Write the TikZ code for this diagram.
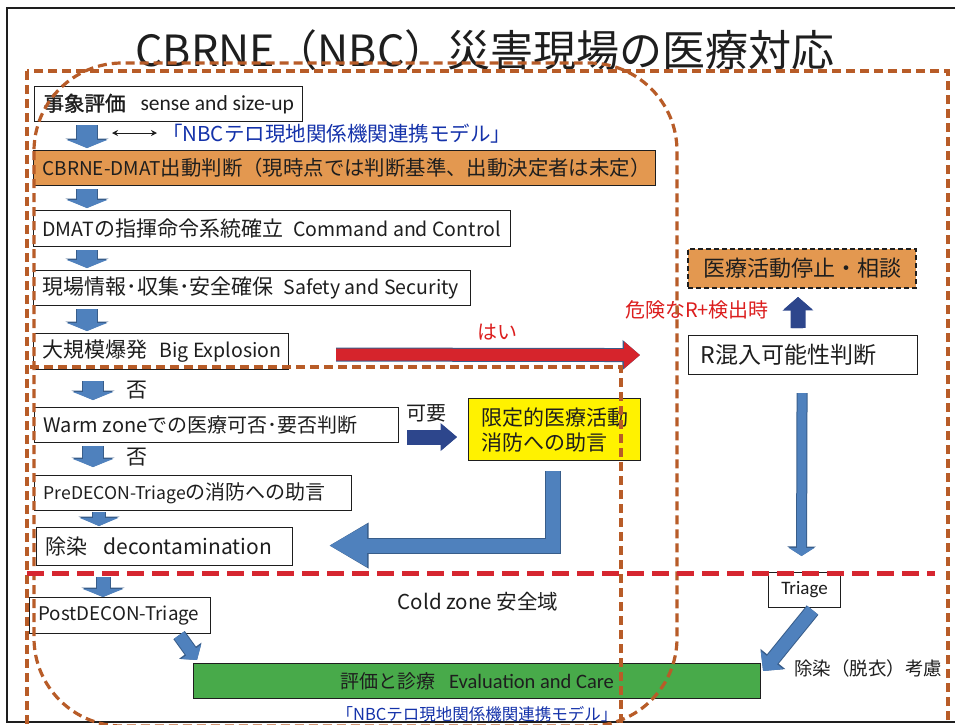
\documentclass[tikz,border=0pt]{standalone}
\usepackage{fontspec}
\setmainfont{Noto Sans CJK JP}
\newfontfamily\latf{Carlito}
\newfontfamily\jpb{Noto Sans CJK JP}[FakeBold=1.5]
\newfontfamily\ltn{Noto Sans CJK JP}[Scale=0.93]
\newfontfamily\ltm{Noto Sans CJK JP}[Scale=0.88]
\usetikzlibrary{arrows.meta,calc}
\newcommand{\fsz}[1]{\fontsize{#1}{#1}\selectfont}
\newcommand{\lbx}[2]{\makebox[#1][l]{#2}}
\newcommand{\barrow}[6]{%
  \draw[line width=#3+2pt, draw=#2, -{Triangle[width=#4+3pt, length=#5+1.5pt]}] #6;
  \draw[line width=#3, draw=#1, -{Triangle[width=#4, length=#5]}] #6;}
\definecolor{brn}{RGB}{184,92,40}
\definecolor{rdash}{RGB}{214,38,48}
\definecolor{orng}{RGB}{227,152,80}
\definecolor{ylw}{RGB}{255,242,0}
\definecolor{grn}{RGB}{72,170,74}
\definecolor{bfill}{RGB}{79,129,189}
\definecolor{bline}{RGB}{56,93,138}
\definecolor{navy}{RGB}{45,70,140}
\definecolor{redf}{RGB}{214,36,44}
\definecolor{bluetxt}{RGB}{20,50,170}
\definecolor{redtxt}{RGB}{220,30,30}
\definecolor{ink}{RGB}{30,30,30}
\tikzset{
  box/.style={draw=ink, line width=1.1pt, fill=white, anchor=north west, inner xsep=9pt, inner ysep=0pt, text=ink},
  txt/.style={inner sep=0pt, text=ink},
  brnline/.style={draw=brn, line width=3.2pt, dash pattern=on 9pt off 5pt},
  redline/.style={draw=rdash, line width=5pt, dash pattern=on 17pt off 8pt},
}
\begin{document}
\begin{tikzpicture}[x=1pt,y=-1pt]
\useasboundingbox (0,0) rectangle (959,724);
\clip (0,0) rectangle (959,724);
\fill[white] (0,0) rectangle (959,724);
% frame
\draw[ink, line width=2.2pt] (955,8) -- (7,8) -- (7,722) -- (955,722);
% title
\node[txt] (title) at (485,50) {\fsz{43}CBRNE（NBC）災害現場の医療対応};
% boxes
\node[box, minimum height=35pt] (b1) at (34,86) {\lbx{250pt}{{\jpb\fsz{20.5}事象評価}\hspace{15pt}{\latf\fsz{21.5}sense and size-up}}};
\node[box, fill=orng, minimum height=35pt] (b2) at (33,150) {\lbx{604pt}{\fsz{20.4}{\ltn CBRNE-DMAT}出動判断（現時点では判断基準、出動決定者は未定）}};
\node[box, minimum height=36pt] (b3) at (33,210) {\lbx{459pt}{\fsz{21}{\ltn DMAT}の指揮命令系統確立\hspace{10pt}{\ltn Command and Control}}};
\node[box, minimum height=35pt] (b4) at (33,270) {\lbx{419pt}{\fsz{21}現場情報･収集･安全確保\hspace{10pt}{\ltn Safety and Security}}};
\node[box, minimum height=36pt] (b5) at (33,333) {\lbx{237pt}{\fsz{21}大規模爆発\hspace{12pt}{\ltn Big Explosion}}};
\node[box, minimum height=35pt] (b6) at (34,407) {\lbx{346pt}{\fsz{20}Warm zoneでの医療可否･要否判断}};
\node[box, minimum height=35pt] (b7) at (34,475) {\lbx{299pt}{\fsz{20}{\ltm PreDECON-Triage}の消防への助言}};
\node[box, minimum height=38pt] (b8) at (36,527) {\lbx{238pt}{\fsz{21}除染\hspace{16pt}decontamination}};
\node[box, minimum height=36pt] (b9) at (29,597) {\lbx{163pt}{\fsz{18.8}PostDECON-Triage}};
\node[box, fill=grn, minimum height=35pt, minimum width=567pt] (g) at (193,663) {{\fsz{19}評価と診療}\hspace{14pt}{\latf\fsz{20.5}Evaluation and Care}};
\node[box, inner xsep=0pt, minimum height=35pt, minimum width=72pt] (t) at (768,572) {\latf\fsz{19}Triage};
\node[box, inner xsep=12pt, minimum height=39pt] (r) at (688,335) {\lbx{205pt}{\fsz{23}R混入可能性判断}};
\node[box, fill=orng, dash pattern=on 5pt off 3pt, line width=2pt, inner xsep=0pt, minimum height=39pt, minimum width=228pt] (o) at (687,248) {\fsz{22}医療活動停止・相談};
\node[box, fill=ylw, inner xsep=0pt, minimum height=62pt, minimum width=172pt, align=left, font=\fontsize{21}{25}\selectfont] (y) at (468,398) {限定的医療活動\\消防への助言};
% labels
\node[txt, text=bluetxt, anchor=west] (nbc1) at (162,134) {\fsz{20.5}「NBCテロ現地関係機関連携モデル」};
\node[txt, text=redtxt] (yes) at (497,332) {\fsz{20}はい};
\node[txt] (no1) at (137,390) {\fsz{21}否};
\node[txt] (no2) at (137,457) {\fsz{21}否};
\node[txt] (kayou) at (426,413) {\fsz{20}可要};
\node[txt] (cold) at (478,602) {\fsz{20.5}Cold zone 安全域};
\node[txt, text=redtxt] (kiken) at (697,310) {\fsz{20}危険なR+検出時};
\node[txt] (josen) at (868,668) {\fsz{18.5}除染（脱衣）考慮};
\node[txt, text=bluetxt] (nbc2) at (477,714) {\fsz{16.5}「NBCテロ現地関係機関連携モデル」};
% thin double arrow
\coordinate (lr) at (112,133);
\draw[ink, line width=1pt, {Stealth[length=6pt,width=6pt]}-{Stealth[length=6pt,width=6pt]}] (lr) -- ($(nbc1.west)+(-5,-1)$);
% block arrows
\barrow{bfill}{bline}{20pt}{40pt}{8pt}{($(b1.south west)+(53,3)$) -- ($(b2.north west)+(54,-2)$)}
\barrow{bfill}{bline}{20pt}{40pt}{8pt}{($(b2.south west)+(54,3)$) -- ($(b3.north west)+(54,-2)$)}
\barrow{bfill}{bline}{20pt}{40pt}{8pt}{($(b3.south west)+(54,3)$) -- ($(b4.north west)+(54,-2)$)}
\barrow{bfill}{bline}{20pt}{40pt}{8pt}{($(b4.south west)+(54,3)$) -- ($(b5.north west)+(54,-2)$)}
\barrow{bfill}{bline}{20pt}{40pt}{8pt}{($(b5.south west)+(60,11)$) -- ($(b6.north west)+(59,-7)$)}
\barrow{bfill}{bline}{20pt}{40pt}{8pt}{($(b6.south west)+(59,3)$) -- ($(b7.north west)+(59,-8)$)}
\barrow{bfill}{bline}{12pt}{38pt}{8pt}{($(b7.south west)+(65,1)$) -- ($(b8.north west)+(63,-1)$)}
\barrow{bfill}{bline}{13pt}{40pt}{8pt}{($(b8.south west)+(67,11)$) -- ($(b9.north west)+(74,0)$)}
\barrow{bfill}{bline}{12pt}{24pt}{10pt}{($(b9.south east)+(-32,1)$) -- ($(g.north west)+(4,-3)$)}
\barrow{bfill}{bline}{13pt}{28pt}{14pt}{($(t.south)+(8,2)$) -- ($(g.north east)+(2,8)$)}
\barrow{bfill}{bline}{9pt}{25pt}{8pt}{($(r.south)+(-1,18)$) -- ($(t.north)+(-3,-16)$)}
\barrow{navy}{navy}{13pt}{27pt}{12pt}{($(r.north)+(-5,-7)$) -- ($(o.south)+(-4,8)$)}
\barrow{redf}{bline}{12pt}{26pt}{16pt}{($(b5.east)+(47,3)$) -- ($(r.west)+(-48,0)$)}
\barrow{navy}{navy}{13pt}{24pt}{15pt}{($(b6.east)+(8,12)$) -- ($(y.west)+(-11,7.5)$)}
\barrow{bfill}{bline}{14pt}{40pt}{38pt}{($(y.south)+(-2,10)$) |- ($(b8.east)+(36,-1)$)}
% zone lines
\draw[brnline] (27,71) rectangle (948,740);
\draw[brnline] (30,367) -- (621,367) -- (621,740);
\draw[brnline, rounded corners=88pt] (34,63) rectangle (677,726);
\draw[redline] (27,573) -- (935,573);
\end{tikzpicture}
\end{document}
